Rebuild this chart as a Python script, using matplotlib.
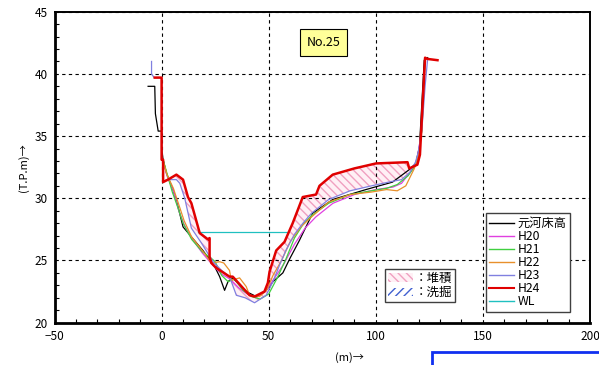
import numpy as np
import matplotlib
matplotlib.use("Agg")
import matplotlib.pyplot as plt
from matplotlib.patches import Patch, Rectangle
from matplotlib.lines import Line2D

plt.rcParams['font.family'] = ['Noto Sans CJK JP', 'DejaVu Sans']

# 元河床高 (original bed)
x_base = [-6.3, -3.2, -2.9, -1.6, 0, 0, 0.7, 2.3, 5.3, 7.7, 10, 13.9, 19.3, 24.8, 27.1, 29.4, 31.0, 33.2,
          39.5, 44.2, 48.8, 52, 56.6, 60, 64.3, 70.5, 79.9, 95.4, 107.8, 115.6, 118.7, 120.4, 122.6, 124.2]
y_base = [39.0, 39.0, 36.8, 35.4, 35.4, 34.0, 33.1, 32.0, 30.7, 29.3, 27.7, 26.9, 25.8, 24.5, 23.7, 22.6, 23.3, 23.6,
          22.5, 22.1, 22.6, 23.3, 24.0, 25.2, 26.6, 28.8, 29.9, 30.7, 31.3, 32.3, 32.8, 34.2, 41.1, 41.3]

x_h20 = [0.7, 2.5, 5.5, 8, 10.5, 14, 19, 24, 28, 32, 36, 40, 44, 48.5, 52, 57, 62, 67, 72, 80, 90, 100,
         108, 112, 116, 119, 121, 123]
y_h20 = [33.0, 31.8, 30.6, 29.0, 27.9, 26.8, 25.6, 24.6, 23.9, 23.5, 22.8, 22.3, 22.0, 22.5, 23.4, 24.7, 26.3, 27.6,
         28.5, 29.6, 30.3, 30.7, 30.9, 31.2, 32.1, 32.8, 35.0, 41.2]

x_h21 = [0.7, 2.5, 5, 7.5, 10, 14, 19, 23, 25, 28, 31, 34, 38, 42, 46, 50, 54, 58, 62, 66, 70, 78, 88, 98,
         105, 110, 115, 118, 120, 121.5, 123]
y_h21 = [33.1, 32.0, 30.5, 29.3, 28.0, 26.7, 25.7, 25.2, 24.9, 23.8, 23.3, 23.5, 22.6, 22.1, 21.9, 22.3, 23.6, 25.1,
         26.8, 27.9, 28.6, 29.6, 30.3, 30.6, 30.8, 31.1, 31.8, 32.5, 33.5, 35.5, 41.2]

x_h22 = [0.7, 2.5, 5.5, 8, 10.5, 14, 19, 23.2, 27.1, 29, 31.7, 32.5, 36.4, 39.5, 41.1, 45.7, 49, 52, 56, 60, 65,
         70, 78, 88, 98, 105, 110, 114, 118, 120, 121.5, 123]
y_h22 = [33.0, 31.9, 30.8, 29.5, 28.2, 26.9, 25.8, 24.8, 24.9, 24.8, 24.2, 23.4, 23.6, 22.9, 22.2, 22.1, 22.6, 23.8,
         25.0, 26.5, 27.7, 28.5, 29.7, 30.3, 30.5, 30.7, 30.6, 31.0, 32.4, 33.5, 35.5, 41.2]

x_h23 = [-4.7, -4.7, -3.5, 0, 0, 0.7, 0.7, 2.2, 6.9, 8.5, 10.8, 13.9, 18.6, 24, 28, 31.7, 34.9, 39, 43.4, 48.8,
         52, 55, 58, 62, 66, 70, 78, 88, 98, 106, 112, 116, 118.5, 120, 121.5, 123, 124.2]
y_h23 = [41.0, 40.0, 39.7, 39.7, 33.1, 33.1, 31.3, 31.5, 31.5, 31.2, 30.0, 27.6, 26.4, 24.9, 24.2, 23.7, 22.2, 22.0,
         21.6, 22.2, 23.3, 24.6, 25.8, 27.1, 28.0, 28.8, 29.9, 30.6, 31.0, 31.3, 31.5, 32.1, 32.9, 33.8, 35.5, 39.0, 41.2]

x_h24 = [-3.2, 0, 0, 0.7, 0.7, 3, 6.9, 10, 12.3, 13.9, 17.8, 21.6, 22.4, 22.4, 23.2, 25.5, 31.7, 33.2, 37.9, 41.1,
         43.4, 48, 49.6, 50.4, 53.5, 57.4, 61.2, 65.9, 72.1, 73.7, 79.9, 90, 100.1, 114.8, 115.6, 119.4, 120.6,
         123.0, 124.2, 128.8]
y_h24 = [39.7, 39.7, 33.1, 33.1, 31.3, 31.5, 31.9, 31.5, 30.1, 29.6, 27.2, 26.7, 26.8, 25.3, 24.8, 24.4, 23.7, 23.7,
         22.8, 22.2, 22.1, 22.5, 23.2, 24.1, 25.8, 26.5, 28.0, 30.1, 30.3, 31.0, 31.9, 32.4, 32.8, 32.9, 32.4, 32.7,
         33.5, 41.3, 41.2, 41.1]

x_wl = [17, 58.9]
y_wl = [27.3, 27.3]

series = [("元河床高", x_base, y_base, "black", 0.9),
          ("H20", x_h20, y_h20, "#e040e0", 0.9),
          ("H21", x_h21, y_h21, "#40d040", 0.9),
          ("H22", x_h22, y_h22, "#e8902c", 0.9),
          ("H23", x_h23, y_h23, "#8080e0", 0.9),
          ("H24", x_h24, y_h24, "#e00000", 1.8),
          ("WL", x_wl, y_wl, "#20c0c0", 0.9)]

fig = plt.figure(figsize=(5.99, 3.65), dpi=100)
ax = fig.add_axes([0.091, 0.116, 0.894, 0.852])

# deposit / scour hatch between H23 and H24
xs = np.union1d(x_h24[5:36], [v for v in x_h23 if 3 <= v <= 119.4])
top = np.interp(xs, x_h24[5:36], y_h24[5:36])
bot = np.interp(xs, x_h23[7:], y_h23[7:])
ax.fill_between(xs, bot, top, where=top >= bot, interpolate=True, facecolor="#fff0f5",
                edgecolor="#f0a0c0", hatch="\\\\\\\\", lw=0)
ax.fill_between(xs, bot, top, where=top < bot, interpolate=True, facecolor="white",
                edgecolor="#4060d0", hatch="////", lw=0)

handles = []
for name, xv, yv, col, lw in series:
    ax.plot(xv, yv, color=col, lw=lw, zorder=3 if name != "H24" else 4)
    handles.append(Line2D([], [], color=col, lw=1.5 if name == "H24" else 1.0))

ax.set_xlim(-50, 200)
ax.set_ylim(20, 45)
ax.set_xticks([-50, 0, 50, 100, 150, 200])
ax.set_xticklabels(["\u221250", "0", "50", "100", "150", "200"])
ax.set_yticks([20, 25, 30, 35, 40, 45])
ax.set_xticks(np.arange(-50, 201, 10), minor=True)
ax.set_yticks(np.arange(20, 46, 1), minor=True)
ax.tick_params(which="both", direction="in", labelsize=8.5)
ax.tick_params(which="major", length=0, pad=5)
ax.tick_params(which="minor", length=3, width=0.8)
ax.grid(True, which="major", color="black", ls=(0, (3, 3)), lw=0.8)
for s in ax.spines.values():
    s.set_linewidth(1.4)
ax.spines["left"].set_linewidth(2)
ax.spines["bottom"].set_linewidth(2)

ax.set_ylabel("(T.P.m)→", fontsize=8)
ax.yaxis.set_label_coords(-0.048, 0.5)
ax.set_xlabel("(m)→", fontsize=8)
ax.xaxis.set_label_coords(0.55, -0.095)

ax.text(75.5, 42.55, "No.25", fontsize=9, ha="center", va="center",
        bbox=dict(boxstyle="square,pad=0.55", facecolor="#ffff99", edgecolor="black", lw=0.8))

leg1 = ax.legend(handles, [s[0] for s in series], loc="lower right", bbox_to_anchor=(0.963, 0.035),
                 fontsize=8.8, frameon=True, fancybox=False, edgecolor="#404040", framealpha=1,
                 labelspacing=0.0, handlelength=2.0, handletextpad=0.3, borderpad=0.3, borderaxespad=0)
leg1.get_frame().set_linewidth(1.0)
ax.add_artist(leg1)

hatch_handles = [Patch(facecolor="#fff0f5", edgecolor="#f0a0c0", hatch="\\\\\\\\", lw=0),
                 Patch(facecolor="white", edgecolor="#4060d0", hatch="////", lw=0)]
leg2 = ax.legend(hatch_handles, ["：堆積", "：洗掘"], loc="lower left", bbox_to_anchor=(0.617, 0.065),
                 fontsize=9, frameon=True, fancybox=False, edgecolor="#404040", framealpha=1,
                 labelspacing=0.1, handlelength=2.0, handletextpad=0.1, borderpad=0.25, borderaxespad=0)
leg2.get_frame().set_linewidth(1.0)

fig.patches.append(Rectangle((432 / 599, -0.05), 0.4, 0.05 + 13 / 365, transform=fig.transFigure,
                             facecolor="none", edgecolor="#1030f0", lw=2))

fig.savefig("out.png", dpi=100)
